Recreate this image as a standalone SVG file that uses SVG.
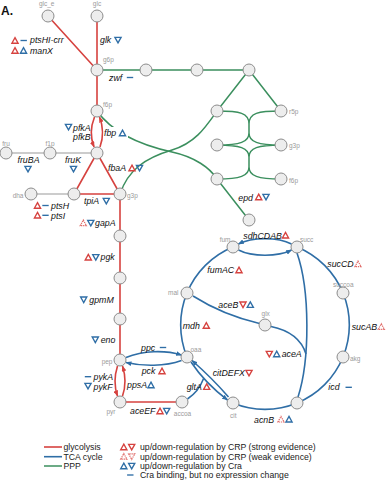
<svg xmlns="http://www.w3.org/2000/svg" width="386" height="482" viewBox="0 0 386 482">
<defs>
<style>
.gly{stroke:#d6423f;stroke-width:1.6;fill:none}
.tca{stroke:#2f6ea6;stroke-width:1.6;fill:none}
.ppp{stroke:#3b8f5e;stroke-width:1.5;fill:none}
.aux{stroke:#bcbcbc;stroke-width:1.6;fill:none}
.node circle{fill:#ededed;stroke:#8c8c8c;stroke-width:1}
.met{font-family:"Liberation Sans",Arial,sans-serif;font-size:6.5px;fill:#9a9a9a}
.gene{font-family:"Liberation Sans",Arial,sans-serif;font-size:8.8px;font-style:italic;fill:#111}
.leg{font-family:"Liberation Sans",Arial,sans-serif;font-size:8.7px;fill:#222}
.crp{stroke:#d6423f;stroke-width:1.35;fill:none}
.crpw{stroke:#e06b68;stroke-width:1.2;stroke-dasharray:1.3 0.8;fill:none}
.cra{stroke:#2f6ea6;stroke-width:1.35;fill:none}
</style>
<path id="tu" d="M0,-2.9 L3.1,2.7 L-3.1,2.7 Z"/>
<path id="td" d="M0,2.9 L3.1,-2.7 L-3.1,-2.7 Z"/>
<path id="bar" d="M-3.2,0 H3.2"/>
<marker id="ar" viewBox="0 0 10 8" refX="9" refY="4" markerWidth="6" markerHeight="4.8" markerUnits="userSpaceOnUse" orient="auto"><path d="M0,0 L10,4 L0,8 Z" fill="#d6423f"/></marker>
<marker id="ab" viewBox="0 0 10 8" refX="9" refY="4" markerWidth="6" markerHeight="4.8" markerUnits="userSpaceOnUse" orient="auto"><path d="M0,0 L10,4 L0,8 Z" fill="#2f6ea6"/></marker>
</defs>
<rect width="386" height="482" fill="#fff"/>
<text x="1" y="15" font-family="Liberation Sans,Arial,sans-serif" font-size="12" font-weight="bold" fill="#111">A.</text>

<g id="connectors">
  <!-- glycolysis -->
  <path class="gly" d="M48,16 L97,70 M97,16 V70 V111"/>
  <path class="gly" d="M94.5,117 C90.5,127 90.5,138 94,147" marker-end="url(#ar)"/>
  <path class="gly" d="M100,147 C103.5,137 103.5,127 99.5,117" marker-end="url(#ar)"/>
  <path class="gly" d="M97,153 L74,194 H120 Z M120,194 V360"/>
  <path class="gly" d="M117.5,366 C114,377 114,386 117.5,396" marker-end="url(#ar)"/>
  <path class="gly" d="M122.5,396 C126,386 126,377 122.5,366" marker-end="url(#ar)"/>
  <path class="gly" d="M120,402 H182"/>
  <!-- side branches -->
  <path class="aux" d="M6,153 H97 M31,194 H74"/>
  <!-- pentose phosphate pathway -->
  <path class="ppp" d="M97,70 H249 L217,111 M249,70 L281,111 M217,179 L249,220"/>
  <path class="ppp" d="M217,111 C240,111 249,113 249,124 M281,111 C258,111 249,113 249,124 V133
    M249,133 C249,142 240,145 217,145 M249,133 C249,142 258,145 281,145
    M217,145 C240,145 249,148 249,157 M281,145 C258,145 249,148 249,157 V167
    M249,167 C249,176 240,179 217,179 M249,167 C249,176 258,179 281,179"/>
  <path class="ppp" d="M97,111 C112,132 140,145 172,152 C195,157 210,168 217,179"/>
  <path class="ppp" d="M217,111 C205,128 195,143 172,150 C145,158 128,170 120,194"/>
  <!-- TCA cycle -->
  <path class="tca" d="M187,357 A84,84 0 0 1 187,293 A84,84 0 0 1 233,247"/>
  <path class="tca" d="M297,247 A84,84 0 0 1 343,293 A84,84 0 0 1 343,357 A84,84 0 0 1 297,403 A84,84 0 0 1 233,403"/>
  <path class="tca" d="M291.5,244 C278,237 252,237 238.5,244" marker-end="url(#ab)"/>
  <path class="tca" d="M238.5,250 C252,257 278,257 291.5,250" marker-end="url(#ab)"/>
  <path class="tca" d="M126,357.5 C143,350.5 165,350 181.5,355" marker-end="url(#ab)"/>
  <path class="tca" d="M181.5,360.5 C165,366.5 143,366.5 126,362.5" marker-end="url(#ab)"/>
  <path class="tca" d="M191,362 Q205,383 227.5,400" marker-end="url(#ab)"/>
  <path class="tca" d="M187.5,399 C195,394 200,388 203.6,378.5"/>
  <path class="tca" d="M228.5,397 Q212,378 192,360.5" marker-end="url(#ab)"/>
  <!-- glyoxylate shunt -->
  <path class="tca" d="M297,253 C310,290 310,360 298,397"/>
  <path class="tca" d="M271,326.5 C288,330 301,338 306,354"/>
  <path class="tca" d="M193,296 C212,308 236,318 259.5,323.5"/>
</g>

<g id="n-glc_e" class="node"><circle cx="48" cy="16" r="6"/><text class="met" x="46.7" y="6" text-anchor="middle">glc_e</text></g>
<g id="n-glc" class="node"><circle cx="97" cy="16" r="6"/><text class="met" x="97" y="6" text-anchor="middle">glc</text></g>
<g id="n-g6p" class="node"><circle cx="97" cy="70" r="6"/><text class="met" x="103" y="62">g6p</text></g>
<g id="n-f6p" class="node"><circle cx="97" cy="111" r="6"/><text class="met" x="103" y="107">f6p</text></g>
<g id="n-fdp" class="node"><circle cx="97" cy="153" r="6"/></g>
<g id="n-fru" class="node"><circle cx="6" cy="153" r="6"/><text class="met" x="6" y="145.5" text-anchor="middle">fru</text></g>
<g id="n-f1p" class="node"><circle cx="50" cy="153" r="6"/><text class="met" x="50" y="145.5" text-anchor="middle">f1p</text></g>
<g id="n-dha" class="node"><circle cx="31" cy="194" r="6"/><text class="met" x="23.5" y="198" text-anchor="end">dha</text></g>
<g id="n-dhap" class="node"><circle cx="74" cy="194" r="6"/></g>
<g id="n-g3p" class="node"><circle cx="120" cy="194" r="6"/><text class="met" x="127" y="198">g3p</text></g>
<g id="n-13dpg" class="node"><circle cx="120" cy="236" r="6"/></g>
<g id="n-3pg" class="node"><circle cx="120" cy="278" r="6"/></g>
<g id="n-2pg" class="node"><circle cx="120" cy="319" r="6"/></g>
<g id="n-pep" class="node"><circle cx="120" cy="360" r="6"/><text class="met" x="112.5" y="364" text-anchor="end">pep</text></g>
<g id="n-pyr" class="node"><circle cx="120" cy="402" r="6"/><text class="met" x="115.5" y="414" text-anchor="end">pyr</text></g>
<g id="n-accoa" class="node"><circle cx="182" cy="402" r="6"/><text class="met" x="182.5" y="415.5" text-anchor="middle">accoa</text></g>
<g id="n-oaa" class="node"><circle cx="187" cy="357" r="6"/><text class="met" x="190.5" y="351.5">oaa</text></g>
<g id="n-mal" class="node"><circle cx="187" cy="293" r="6"/><text class="met" x="178.5" y="295" text-anchor="end">mal</text></g>
<g id="n-fum" class="node"><circle cx="233" cy="247" r="6"/><text class="met" x="230.5" y="241.5" text-anchor="end">fum</text></g>
<g id="n-succ" class="node"><circle cx="297" cy="247" r="6"/><text class="met" x="300" y="241.5">succ</text></g>
<g id="n-succoa" class="node"><circle cx="343" cy="293" r="6"/><text class="met" x="343.3" y="286.5" text-anchor="middle">succoa</text></g>
<g id="n-akg" class="node"><circle cx="343" cy="357" r="6"/><text class="met" x="350" y="361">akg</text></g>
<g id="n-icit" class="node"><circle cx="297" cy="403" r="6"/></g>
<g id="n-cit" class="node"><circle cx="233" cy="403" r="6"/><text class="met" x="233.3" y="417.5" text-anchor="middle">cit</text></g>
<g id="n-glx" class="node"><circle cx="265" cy="325" r="6"/><text class="met" x="265.7" y="316" text-anchor="middle">glx</text></g>
<g id="n-6pgl" class="node"><circle cx="146" cy="70" r="6"/></g>
<g id="n-6pgc" class="node"><circle cx="197" cy="70" r="6"/></g>
<g id="n-ru5p" class="node"><circle cx="249" cy="70" r="6"/></g>
<g id="n-xu5p" class="node"><circle cx="217" cy="111" r="6"/></g>
<g id="n-r5p" class="node"><circle cx="281" cy="111" r="6"/><text class="met" x="289" y="114">r5p</text></g>
<g id="n-s7p" class="node"><circle cx="217" cy="145" r="6"/></g>
<g id="n-g3p-ppp" class="node"><circle cx="281" cy="145" r="6"/><text class="met" x="289" y="148">g3p</text></g>
<g id="n-e4p" class="node"><circle cx="217" cy="179" r="6"/></g>
<g id="n-f6p-ppp" class="node"><circle cx="281" cy="179" r="6"/><text class="met" x="289" y="182.5">f6p</text></g>
<g id="n-2ddg6p" class="node"><circle cx="249" cy="220" r="6"/></g>

<g id="gene-labels">
  <use href="#tu" class="crp" x="15" y="40.5"/><use href="#bar" class="cra" x="23.7" y="40.5"/>
  <text class="gene" x="30" y="43">ptsHI-crr</text>
  <use href="#tu" class="crp" x="15" y="50.5"/><use href="#tu" class="cra" x="23.5" y="50.5"/>
  <text class="gene" x="30" y="53.5">manX</text>
  <text class="gene" x="100" y="43">glk</text><use href="#td" class="cra" x="118" y="40"/>
  <text class="gene" x="109" y="80.5">zwf</text><use href="#bar" class="cra" x="130" y="77.5"/>
  <use href="#td" class="cra" x="68.5" y="127"/>
  <text class="gene" x="73" y="131">pfkA</text>
  <text class="gene" x="73" y="140">pfkB</text>
  <rect x="103.5" y="127" width="24.5" height="11" fill="#fff"/>
  <text class="gene" x="104" y="136">fbp</text><use href="#tu" class="cra" x="122.5" y="133"/>
  <text class="gene" x="17.5" y="163">fruBA</text><use href="#td" class="cra" x="28" y="169"/>
  <text class="gene" x="65" y="163">fruK</text><use href="#td" class="cra" x="73.5" y="169"/>
  <text class="gene" x="108" y="170.5">fbaA</text><use href="#tu" class="crp" x="132" y="168"/><use href="#td" class="cra" x="139.5" y="168"/>
  <text class="gene" x="84" y="204">tpiA</text><use href="#td" class="cra" x="106.3" y="201"/>
  <use href="#tu" class="crp" x="37.5" y="205.5"/><use href="#bar" class="cra" x="45.5" y="205.5"/>
  <text class="gene" x="51" y="209">ptsH</text>
  <use href="#tu" class="crp" x="37.5" y="215.3"/><use href="#bar" class="cra" x="45.5" y="215.3"/>
  <text class="gene" x="51" y="218.5">ptsI</text>
  <use href="#tu" class="crpw" x="83.3" y="223"/><use href="#td" class="cra" x="90.8" y="223"/>
  <text class="gene" x="95" y="226">gapA</text>
  <use href="#tu" class="crp" x="88.3" y="257.3"/><use href="#td" class="cra" x="95.8" y="257.3"/>
  <text class="gene" x="100.5" y="260">pgk</text>
  <use href="#td" class="cra" x="83.7" y="299.7"/><text class="gene" x="89.3" y="303">gpmM</text>
  <use href="#td" class="cra" x="95.3" y="339.7"/><text class="gene" x="100.7" y="343">eno</text>
  <text class="gene" x="141" y="350.5">ppc</text><use href="#bar" class="cra" x="163" y="347.5"/>
  <text class="gene" x="141.7" y="374">pck</text><use href="#tu" class="crp" x="162" y="371"/>
  <use href="#bar" class="cra" x="88" y="376.7"/><text class="gene" x="93.5" y="380">pykA</text>
  <use href="#td" class="cra" x="88" y="386"/><text class="gene" x="93.5" y="389.5">pykF</text>
  <text class="gene" x="127" y="388">ppsA</text><use href="#tu" class="cra" x="151" y="385"/>
  <text class="gene" x="130" y="414">aceEF</text><use href="#tu" class="crp" x="160" y="411"/><use href="#td" class="cra" x="166.7" y="411"/>
  <text class="gene" x="186.7" y="390">gltA</text><use href="#tu" class="crp" x="206.7" y="386.7"/>
  <text class="gene" x="212.7" y="376">citDEFX</text><use href="#td" class="crp" x="249" y="373"/>
  <text class="gene" x="254" y="423">acnB</text><use href="#tu" class="crpw" x="281" y="419.3"/><use href="#tu" class="cra" x="289" y="419.3"/>
  <text class="gene" x="328.3" y="390">icd</text><use href="#bar" class="cra" x="348.7" y="387.3"/>
  <use href="#td" class="crp" x="269.3" y="354"/><use href="#tu" class="cra" x="276.7" y="354"/>
  <text class="gene" x="281.7" y="357.3">aceA</text>
  <text class="gene" x="351.7" y="330">sucAB</text><use href="#tu" class="crpw" x="381.3" y="326.7"/>
  <text class="gene" x="327.3" y="267.3">sucCD</text><use href="#tu" class="crpw" x="358" y="264"/>
  <text class="gene" x="207.3" y="273.3">fumAC</text><use href="#tu" class="crp" x="239" y="270"/>
  <text class="gene" x="218.3" y="308">aceB</text><use href="#td" class="crp" x="243" y="304.7"/><use href="#tu" class="cra" x="250.3" y="304.7"/>
  <text class="gene" x="182.7" y="329">mdh</text><use href="#tu" class="crp" x="206.3" y="325.5"/>
  <text class="gene" x="243.3" y="239">sdhCDAB</text><use href="#tu" class="crp" x="285.5" y="235.3"/>
  <text class="gene" x="238.3" y="201">epd</text><use href="#tu" class="crp" x="258.7" y="197"/><use href="#td" class="cra" x="266" y="197"/>
</g>

<g id="legend">
  <path class="gly" d="M44,447 H62"/>
  <path class="tca" d="M44,456.7 H62"/>
  <path class="ppp" d="M44,466 H62"/>
  <text class="leg" x="63.5" y="450">glycolysis</text>
  <text class="leg" x="63.5" y="459.5">TCA cycle</text>
  <text class="leg" x="63.5" y="469">PPP</text>
  <use href="#tu" class="crp" x="123.8" y="447"/><use href="#td" class="crp" x="131.7" y="447"/>
  <use href="#tu" class="crpw" x="123.8" y="456.5"/><use href="#td" class="crpw" x="131.7" y="456.5"/>
  <use href="#tu" class="cra" x="123.8" y="466"/><use href="#td" class="cra" x="131.7" y="466"/>
  <use href="#bar" class="cra" x="130.3" y="475"/>
  <text class="leg" x="140" y="450">up/down-regulation by CRP (strong evidence)</text>
  <text class="leg" x="140" y="459.5">up/down-regulation by CRP (weak evidence)</text>
  <text class="leg" x="140" y="469">up/down-regulation by Cra</text>
  <text class="leg" x="140" y="478">Cra binding, but no expression change</text>
</g>
</svg>
